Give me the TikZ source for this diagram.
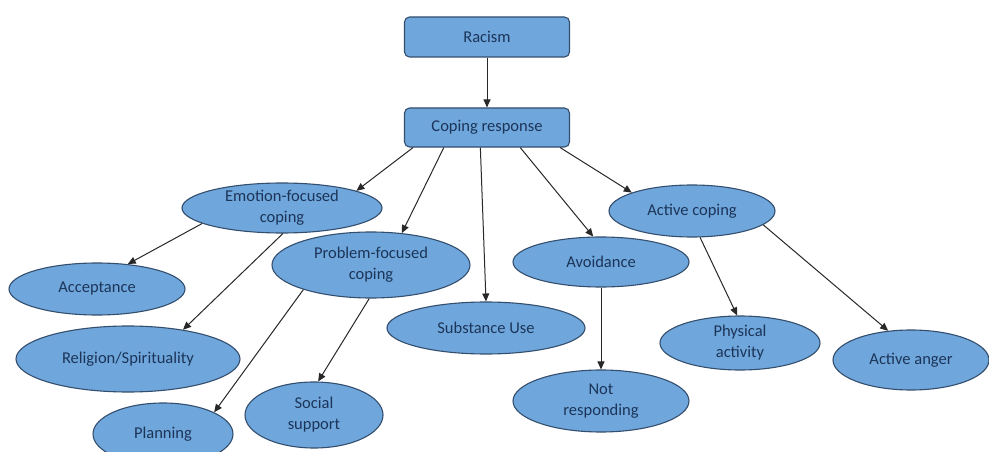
\documentclass[tikz,border=0pt]{standalone}
\usepackage{fontspec}
\setmainfont{Carlito}
\usetikzlibrary{arrows.meta,calc,shapes.geometric}
\definecolor{nodefill}{RGB}{111,167,220}
\definecolor{nodeline}{RGB}{52,78,110}
\definecolor{nodetext}{RGB}{28,52,88}
\definecolor{arrline}{RGB}{40,40,40}
\tikzset{
  basenode/.style={fill=nodefill,draw=nodeline,line width=1.1pt,text=nodetext,
    font=\fontsize{16.5}{21}\selectfont,align=center,inner sep=0pt},
  boxnode/.style={basenode,rectangle,rounded corners=5pt,minimum width=165pt,minimum height=40pt},
  ovalnode/.style={basenode,ellipse},
  arr/.style={draw=arrline,line width=1pt,-{Triangle[length=8pt,width=7pt]}}
}
\begin{document}
\begin{tikzpicture}[x=1pt,y=-1pt]
\useasboundingbox (0,0) rectangle (989,452);
\clip (0,0) rectangle (989,452);
\fill[white] (0,0) rectangle (989,452);
% boxes
\node[boxnode] (rac) at (487,37) {Racism};
\node[boxnode,minimum height=39pt] (cope) at (487,127.5) {Coping response};
% ellipses
\node[ovalnode,minimum width=200pt,minimum height=50pt] (emo) at (282,208) {Emotion-focused\\coping};
\node[ovalnode,minimum width=176pt,minimum height=52pt] (acc) at (97,289) {Acceptance};
\node[ovalnode,minimum width=224pt,minimum height=66pt] (rel) at (128,359) {Religion/Spirituality};
\node[ovalnode,minimum width=140pt,minimum height=62pt] (plan) at (163,434) {Planning};
\node[ovalnode,minimum width=138pt,minimum height=66pt] (soc) at (314,415) {Social\\support};
\node[ovalnode,minimum width=198pt,minimum height=66pt] (prob) at (371,265) {Problem-focused\\coping};
\node[ovalnode,minimum width=198pt,minimum height=52pt] (sub) at (486,328) {Substance Use};
\node[ovalnode,minimum width=176pt,minimum height=50pt] (avoid) at (601,262) {Avoidance};
\node[ovalnode,minimum width=176pt,minimum height=62pt] (notr) at (601,401) {Not\\responding};
\node[ovalnode,minimum width=166pt,minimum height=52pt] (act) at (692,211) {Active coping};
\node[ovalnode,minimum width=160pt,minimum height=54pt] (phys) at (740,343) {Physical\\activity};
\node[ovalnode,minimum width=156pt,minimum height=60pt] (anger) at (911,360) {Active anger};
% connectors
\draw[arr] (rac.south) -- (cope.north);
\draw[arr] ($(cope.south west)!0.055!(cope.south east)$) -- (emo.13);
\draw[arr] ($(cope.south west)!0.24!(cope.south east)$) -- (prob.46);
\draw[arr] ($(cope.south west)!0.46!(cope.south east)$) -- (sub.north);
\draw[arr] ($(cope.south west)!0.70!(cope.south east)$) -- (avoid.107);
\draw[arr] ($(cope.south west)!0.94!(cope.south east)$) -- (act.163);
\draw[arr] (emo.-169) -- (acc.39);
\draw[arr] (emo.-88) -- (rel.28);
\draw[arr] (prob.-160) -- (plan.23);
\draw[arr] (prob.-93) -- (soc.83);
\draw[arr] (avoid.south) -- (notr.north);
\draw[arr] (act.-73) -- (phys.96);
\draw[arr] (act.-11) -- (anger.128);
\end{tikzpicture}
\end{document}
